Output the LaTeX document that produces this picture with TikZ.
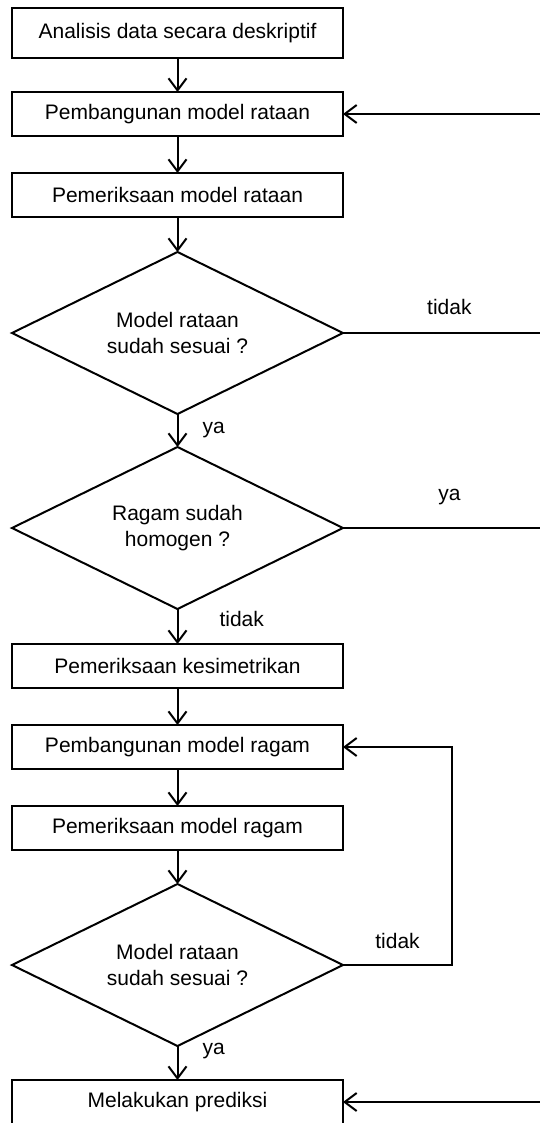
\documentclass[tikz,border=0pt]{standalone}
\usepackage{fontspec}
\setmainfont{Liberation Sans}
\usepackage{tikz}
\usetikzlibrary{arrows.meta}
\usetikzlibrary{positioning}
\usetikzlibrary{shapes.geometric}
\usepackage{xcolor}

\begin{document}
\begin{tikzpicture}[x=1pt,y=1pt,line width=2pt,font=\fontsize{21pt}{26pt}\selectfont]

		\tikzstyle{block} = [rectangle, draw, fill=white, text centered, minimum width=331pt, minimum height=44pt, inner sep=0pt, outer sep=0pt]
		\tikzstyle{decision} = [diamond, draw, fill=white, align=center, aspect=2, minimum width=331pt, minimum height=162pt, inner sep=0pt, outer sep=0pt]
		\tikzstyle{answer} = [inner sep=0pt]
		\tikzstyle{line} = [draw, -{Straight Barb[length=12pt,width=18pt]}]

		\useasboundingbox (0,0) rectangle (540,-1123);
		\coordinate (edge) at (540,0);

		% mean model
		\node [block,minimum height=50pt] (b1) at (177.5,-33) {Analisis data secara deskriptif};
		\node [block,below=34pt of b1] (b2) {Pembangunan model rataan};
		\node [block,below=37pt of b2] (b3) {Pemeriksaan model rataan};
		\node [decision,below=35pt of b3] (d1) {Model rataan\\sudah sesuai ?};
		\node [decision,below=33pt of d1] (d2) {Ragam sudah\\homogen ?};

		% variance model
		\node [block,below=35pt of d2] (b4) {Pemeriksaan kesimetrikan};
		\node [block,below=37pt of b4] (b5) {Pembangunan model ragam};
		\node [block,below=37pt of b5] (b6) {Pemeriksaan model ragam};
		\node [decision,below=34pt of b6] (d3) {Model rataan\\sudah sesuai ?};
		\node [block,below=34pt of d3] (b7) {Melakukan prediksi};

		% Arrow
		\draw [line] (b1) -- (b2);
		\draw [line] (b2) -- (b3);
		\draw [line] (b3) -- (d1);
		\draw [line] (d1) -- node[answer,right=24pt] {ya} (d2);
		\draw [line] (d2) -- node[answer,pos=0.28,right=41pt] {tidak} (b4);
		\draw [line] (b4) -- (b5);
		\draw [line] (b5) -- (b6);
		\draw [line] (b6) -- (d3);
		\draw [line] (d3) -- node[answer,pos=0.15,right=24pt] {ya} (b7);

		% outgoing lines
		\coordinate (out1) at (d1.east -| edge);
		\coordinate (out2) at (d2.east -| edge);
		\coordinate (in1) at (b2.east -| edge);
		\coordinate (in2) at (b7.east -| edge);
		\draw (d1.east) -- node[answer,pos=0.54,above=17pt] {tidak} (out1);
		\draw (d2.east) -- node[answer,pos=0.54,above=22pt] {ya} (out2);
		\draw [line] (in1) -- (b2.east);
		\draw [line] (in2) -- (b7.east);

		% loop
		\coordinate [right=109pt of d3.east] (loop);
		\draw [line] (d3.east) -- node[answer,above=15pt] {tidak} (loop) |- (b5.east);

	\end{tikzpicture}
\end{document}
